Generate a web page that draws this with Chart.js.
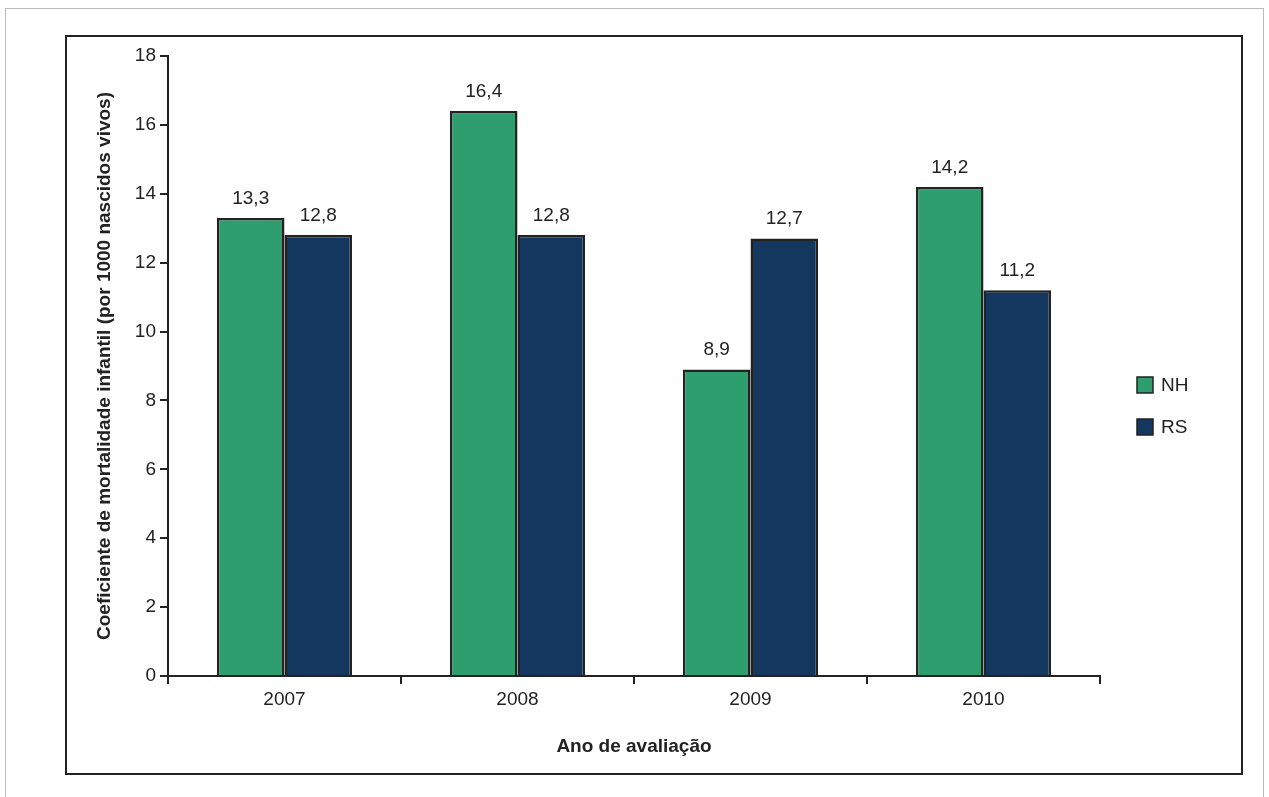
<!DOCTYPE html>
<html>
<head>
<meta charset="utf-8">
<script src="https://cdn.jsdelivr.net/npm/chart.js@4/dist/chart.umd.min.js"></script>
<style>
  body { margin: 0; background: #fff; }
  #frame { position: absolute; left: 65px; top: 35px; width: 1174px; height: 736px; border: 2px solid #222; }
  #edge { position: absolute; left: 5px; top: 8px; width: 1257px; height: 800px; border: 1px solid #bbb; }
</style>
</head>
<body>
<div id="edge"></div>
<div id="frame"><canvas id="chart" width="1174" height="736"></canvas></div>
<script>
const categories = ['2007', '2008', '2009', '2010']
const nhValues = [13.3, 16.4, 8.9, 14.2]
const rsValues = [12.8, 12.8, 12.7, 11.2]
const yTicks = [0, 2, 4, 6, 8, 10, 12, 14, 16, 18]

const FONT = "'Liberation Sans Narrow', 'Liberation Sans', Arial, sans-serif"
const colors = ['#2e9e6e', '#13375e']

const labelsPlugin = {
  id: 'labels',
  afterDatasetsDraw(chart) {
    const ctx = chart.ctx
    ctx.save()
    ctx.font = '19px ' + FONT
    ctx.fillStyle = '#222'
    ctx.textAlign = 'center'
    ctx.textBaseline = 'bottom'
    chart.data.datasets.forEach((ds, i) => {
      chart.getDatasetMeta(i).data.forEach((bar, j) => {
        ctx.fillText(ds.data[j].toFixed(1).replace('.', ','), bar.x, bar.y - 10)
      })
    })
    // legend
    const names = chart.data.datasets.map(d => d.label)
    names.forEach((n, i) => {
      const y = 348 + i * 42
      ctx.fillStyle = colors[i]
      ctx.strokeStyle = '#222'
      ctx.lineWidth = 1.5
      ctx.fillRect(1070, y - 8, 16, 16)
      ctx.strokeRect(1070, y - 8, 16, 16)
      ctx.fillStyle = '#222'
      ctx.textAlign = 'left'
      ctx.textBaseline = 'middle'
      ctx.fillText(n, 1094, y + 1)
    })
    ctx.restore()
  }
}

new Chart(document.getElementById('chart'), {
  type: 'bar',
  data: {
    labels: categories,
    datasets: [
      { label: 'NH', data: nhValues, backgroundColor: colors[0], borderColor: '#222', borderWidth: 2.5 },
      { label: 'RS', data: rsValues, backgroundColor: colors[1], borderColor: '#222', borderWidth: 2.5 },
    ],
  },
  options: {
    responsive: false,
    animation: false,
    layout: { padding: { top: 19, right: 141, left: 0, bottom: 11 } },
    datasets: { bar: { categoryPercentage: 0.58, barPercentage: 1 } },
    plugins: { legend: { display: false }, tooltip: { enabled: false } },
    scales: {
      x: {
        afterFit(s) { s.height = 86 },
        border: { color: '#222', width: 2 },
        grid: { offset: true, drawOnChartArea: false, tickLength: 8, color: '#222', lineWidth: 2 },
        ticks: { color: '#222', font: { family: FONT, size: 19 }, padding: 4 },
        title: { display: true, text: 'Ano de avaliação', color: '#222', font: { family: FONT, size: 19, weight: 'bold' }, padding: { top: 0 } },
      },
      y: {
        min: 0, max: 18,
        afterFit(s) { s.width = 101 },
        afterBuildTicks(s) { s.ticks = yTicks.map(v => ({ value: v })) },
        border: { color: '#222', width: 2 },
        grid: { drawOnChartArea: false, tickLength: 8, color: '#222', lineWidth: 2 },
        ticks: { color: '#222', font: { family: FONT, size: 19 }, padding: 4 },
        title: { display: true, text: 'Coeficiente de mortalidade infantil (por 1000 nascidos vivos)', color: '#222', font: { family: FONT, size: 19, weight: 'bold' }, padding: { top: 26, bottom: 0 } },
      },
    },
  },
  plugins: [labelsPlugin],
})
</script>
</body>
</html>
